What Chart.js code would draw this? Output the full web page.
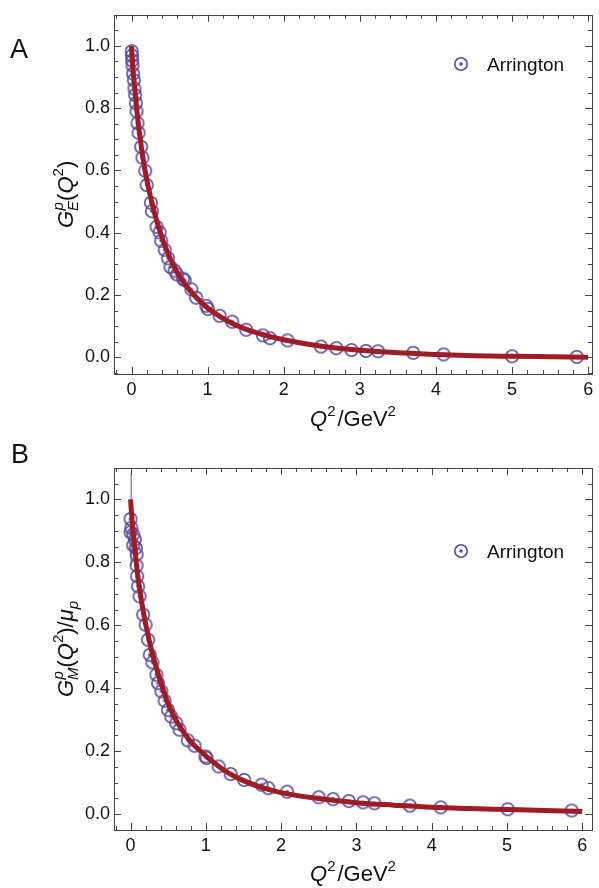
<!DOCTYPE html>
<html><head><meta charset="utf-8">
<script src="https://cdn.jsdelivr.net/npm/chart.js@4.4.0/dist/chart.umd.min.js"></script>
<style>
html,body{margin:0;padding:0;background:#fff;}
.wrap{position:absolute;left:0;width:599px;height:444px;}
canvas{display:block;}
</style></head><body>
<div class="wrap" style="top:0"><canvas id="cA" width="599" height="444"></canvas></div>
<div class="wrap" style="top:444px"><canvas id="cB" width="599" height="444"></canvas></div>
<script>
// ---------- Panel A data: G_E^p (Arrington) ----------
const q2A = [0.003,0.006,0.009,0.0135,0.022,0.031,0.039,0.048,0.057,0.066,0.079,0.092,0.127,0.144,0.18,0.20,0.255,0.268,0.33,0.37,0.39,0.436,0.48,0.511,0.567,0.598,0.677,0.70,0.786,0.85,0.982,1.004,1.157,1.323,1.507,1.726,1.82,2.05,2.49,2.69,2.89,3.08,3.24,3.70,4.10,5.00,5.85];
const geA = [0.983,0.969,0.953,0.937,0.911,0.890,0.863,0.842,0.816,0.790,0.752,0.721,0.676,0.641,0.599,0.553,0.496,0.469,0.419,0.401,0.374,0.345,0.318,0.290,0.278,0.266,0.252,0.247,0.218,0.191,0.165,0.155,0.133,0.114,0.088,0.070,0.061,0.054,0.034,0.029,0.023,0.020,0.019,0.014,0.009,0.003,0.001];
// fit curve A
const fitXA = [0,0.01,0.025,0.05,0.08,0.1,0.15,0.2,0.3,0.4,0.5,0.6,0.7,0.8,1.0,1.25,1.5,1.75,2.0,2.5,3.0,3.5,4.0,4.5,5.0,5.5,6.0];
const fitYA = [1.0,0.955,0.905,0.845,0.77,0.73,0.64,0.57,0.465,0.385,0.322,0.272,0.235,0.205,0.158,0.118,0.09,0.071,0.056,0.035,0.022,0.014,0.009,0.005,0.003,0.0015,0.0];

// ---------- Panel B data: G_M^p / mu_p (Arrington) ----------
const q2B = [0.0,0.01,0.0,0.035,0.057,0.035,0.07,0.08,0.08,0.088,0.10,0.12,0.167,0.20,0.233,0.255,0.29,0.343,0.365,0.41,0.453,0.497,0.54,0.607,0.65,0.76,0.85,0.995,1.01,1.17,1.33,1.51,1.74,1.83,2.08,2.50,2.69,2.90,3.09,3.24,3.71,4.12,5.01,5.86];
const gmB = [0.938,0.910,0.896,0.889,0.873,0.854,0.846,0.825,0.790,0.756,0.724,0.692,0.634,0.602,0.554,0.506,0.482,0.443,0.416,0.390,0.360,0.331,0.310,0.289,0.268,0.234,0.217,0.183,0.178,0.151,0.127,0.108,0.093,0.082,0.071,0.053,0.047,0.041,0.037,0.034,0.0265,0.021,0.015,0.011];
const errXB = [0.008,0.008];
const errYB = [0.79,1.085];
const fitXB = [0,0.01,0.025,0.05,0.08,0.1,0.15,0.2,0.3,0.4,0.5,0.6,0.7,0.8,1.0,1.25,1.5,1.75,2.0,2.5,3.0,3.5,4.0,4.5,5.0,5.5,6.0];
const fitYB = [1.0,0.965,0.92,0.86,0.79,0.75,0.67,0.605,0.5,0.42,0.35,0.3,0.262,0.23,0.185,0.138,0.106,0.084,0.068,0.049,0.036,0.028,0.021,0.017,0.014,0.011,0.008];

const legendLabel = 'Arrington';
const xTickStep = 1, xMinorStep = 0.2, yTickStep = 0.2, yMinorStep = 0.05;

const PURPLE = '#5a4a9f';
const RED = '#a01c24';
const FONT = '"Liberation Sans", Arial, Helvetica, sans-serif';

function zip(xs, ys){ return xs.map((x,i)=>({x:x, y:ys[i]})); }

// point style: open circle with center dot
function makeMarker(){
  const c = document.createElement('canvas');
  c.width = 18; c.height = 18;
  const g = c.getContext('2d');
  g.strokeStyle = PURPLE; g.lineWidth = 1.6;
  g.beginPath(); g.arc(9,9,6.2,0,Math.PI*2); g.stroke();
  g.fillStyle = PURPLE;
  g.beginPath(); g.arc(9,9,1.8,0,Math.PI*2); g.fill();
  return c;
}
const marker = makeMarker();

function drawRich(ctx, groups, cx, baseY, rotate){
  ctx.save();
  ctx.translate(cx, baseY);
  if (rotate) ctx.rotate(-Math.PI/2);
  ctx.fillStyle = '#111';
  ctx.textBaseline = 'alphabetic';
  ctx.textAlign = 'left';
  let total = 0;
  const adv = groups.map(g => {
    let m = 0;
    g.forEach(p => { ctx.font = (p.it?'italic ':'') + p.size + 'px ' + FONT; m = Math.max(m, ctx.measureText(p.t).width + (p.pad||0)); });
    total += m; return m;
  });
  let x = -total/2;
  groups.forEach((g,i) => {
    g.forEach(p => { ctx.font = (p.it?'italic ':'') + p.size + 'px ' + FONT; ctx.fillText(p.t, x + (p.dx||0), p.dy||0); });
    x += adv[i];
  });
  ctx.restore();
}

const framePlugin = {
  id: 'framePlugin',
  afterDatasetsDraw(chart, args, o){
    const ctx = chart.ctx, a = chart.chartArea;
    const xs = chart.scales.x, ys = chart.scales.y;
    ctx.save();
    ctx.strokeStyle = '#444'; ctx.lineWidth = 1;
    ctx.strokeRect(Math.round(a.left)+0.5, Math.round(a.top)+0.5, Math.round(a.right-a.left), Math.round(a.bottom-a.top));
    ctx.beginPath();
    const xStart = Math.ceil(xs.min/xMinorStep)*xMinorStep;
    for (let v = xStart; v <= xs.max + 1e-9; v += xMinorStep){
      const vv = Math.round(v*1000)/1000;
      const major = Math.abs(vv/xTickStep - Math.round(vv/xTickStep)) < 1e-6;
      const L = major ? 7 : 4;
      const px = Math.round(xs.getPixelForValue(vv)) + 0.5;
      ctx.moveTo(px, a.bottom); ctx.lineTo(px, a.bottom - L);
      ctx.moveTo(px, a.top); ctx.lineTo(px, a.top + L);
    }
    const yStart = Math.ceil(ys.min/yMinorStep)*yMinorStep;
    for (let v = yStart; v <= ys.max + 1e-9; v += yMinorStep){
      const vv = Math.round(v*1000)/1000;
      const major = Math.abs(vv/yTickStep - Math.round(vv/yTickStep)) < 1e-6;
      const L = major ? 7 : 4;
      const py = Math.round(ys.getPixelForValue(vv)) + 0.5;
      ctx.moveTo(a.left, py); ctx.lineTo(a.left + L, py);
      ctx.moveTo(a.right, py); ctx.lineTo(a.right - L, py);
    }
    ctx.stroke();
    ctx.fillStyle = '#111';
    ctx.font = '27px ' + FONT;
    ctx.textAlign = 'left'; ctx.textBaseline = 'alphabetic';
    ctx.fillText(o.letter, o.letterX, o.letterY);
    ctx.drawImage(marker, o.legX - 9, o.legY - 9);
    ctx.font = '19px ' + FONT;
    ctx.fillText(legendLabel, o.legX + 26, o.legY + 7);
    ctx.restore();
    const midY = (a.top + a.bottom) / 2, midX = (a.left + a.right) / 2;
    drawRich(ctx, o.ylabel, o.ylabelX, midY, true);
    drawRich(ctx, o.xlabel, midX, o.xlabelY, false);
  }
};

function makeChart(id, cfg){
  const datasets = [
    { label: 'fit', data: zip(cfg.fitX, cfg.fitY), showLine: true, borderColor: RED, borderWidth: 5,
      pointRadius: 0, cubicInterpolationMode: 'monotone', fill: false, borderCapStyle: 'butt' },
    { label: legendLabel, data: zip(cfg.dx, cfg.dy), showLine: false, pointStyle: marker, pointRadius: 6,
      borderColor: PURPLE, backgroundColor: PURPLE }
  ];
  if (cfg.errX) datasets.push({ label: 'err', data: zip(cfg.errX, cfg.errY), showLine: true, borderColor: PURPLE,
      borderWidth: 1, pointRadius: 0, fill: false });
  return new Chart(document.getElementById(id), {
    type: 'scatter',
    data: { datasets },
    options: {
      responsive: false, animation: false, devicePixelRatio: 1,
      layout: { padding: { top: cfg.top, left: 0, right: 599 - cfg.right, bottom: 0 } },
      plugins: { legend: { display: false }, tooltip: { enabled: false }, framePlugin: cfg.plug },
      scales: {
        x: { type: 'linear', min: cfg.xmin, max: cfg.xmax,
             afterFit: s => { s.height = 444 - cfg.bottom; },
             grid: { display: false, drawTicks: false }, border: { display: false },
             ticks: { stepSize: xTickStep, includeBounds: false, padding: 5, color: '#111',
                      font: { family: FONT, size: 18 }, callback: v => String(Math.round(v)) } },
        y: { type: 'linear', min: cfg.ymin, max: cfg.ymax,
             afterFit: s => { s.width = cfg.left; },
             grid: { display: false, drawTicks: false }, border: { display: false },
             ticks: { stepSize: yTickStep, includeBounds: false, padding: 4, color: '#111',
                      font: { family: FONT, size: 18 }, callback: v => Number(v).toFixed(1) } }
      }
    },
    plugins: [framePlugin]
  });
}

const ylabA = [
  [{t:'G', it:true, size:22}],
  [{t:'p', it:true, size:15, dy:-10, dx:0.5}, {t:'E', it:true, size:15, dy:5}],
  [{t:'(', size:22}], [{t:'Q', it:true, size:22}], [{t:'2', size:15, dy:-10}], [{t:')', size:22}]
];
const ylabB = [
  [{t:'G', it:true, size:22}],
  [{t:'p', it:true, size:15, dy:-10, dx:0.5}, {t:'M', it:true, size:15, dy:5}],
  [{t:'(', size:22}], [{t:'Q', it:true, size:22}], [{t:'2', size:15, dy:-10}], [{t:')', size:22}],
  [{t:'/', size:22}], [{t:'μ', it:true, size:22}], [{t:'p', it:true, size:15, dy:5}]
];
const xlab = [
  [{t:'Q', it:true, size:22}], [{t:'2', size:15, dy:-10, pad:2}], [{t:'/GeV', size:22}], [{t:'2', size:15, dy:-10}]
];

makeChart('cA', {
  fitX: fitXA, fitY: fitYA, dx: q2A, dy: geA,
  top: 10, bottom: 374, left: 114, right: 593,
  xmin: -0.23, xmax: 6.05, ymin: -0.054, ymax: 1.10,
  plug: { letter: 'A', letterX: 10, letterY: 58, legX: 461, legY: 64,
          ylabel: ylabA, ylabelX: 73, xlabel: xlab, xlabelY: 426 }
});
makeChart('cB', {
  fitX: fitXB, fitY: fitYB, dx: q2B, dy: gmB, errX: errXB, errY: errYB,
  top: 24, bottom: 386, left: 114, right: 595,
  xmin: -0.22, xmax: 6.13, ymin: -0.051, ymax: 1.10,
  plug: { letter: 'B', letterX: 11, letterY: 19, legX: 461, legY: 107,
          ylabel: ylabB, ylabelX: 73, xlabel: xlab, xlabelY: 437 }
});
</script>
</body></html>
